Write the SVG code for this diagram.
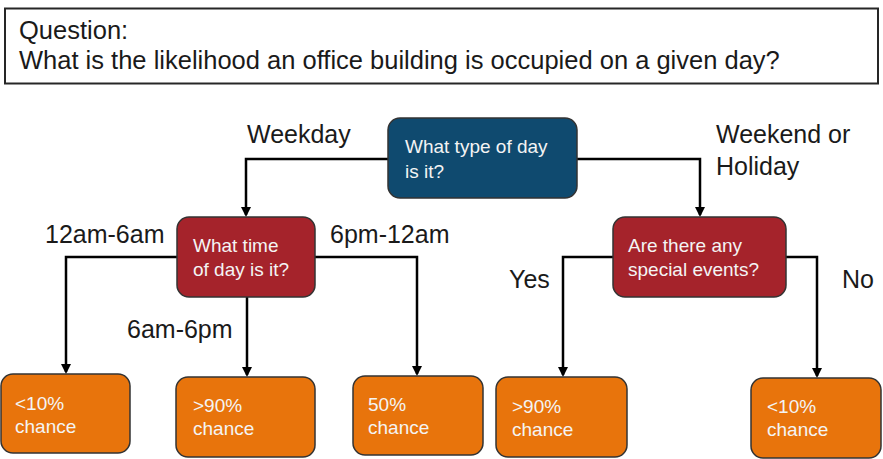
<svg xmlns="http://www.w3.org/2000/svg" width="883" height="459" viewBox="0 0 883 459">
  <style>
    .lbl { font-family: "Liberation Sans", Arial, sans-serif; font-size: 25px; fill: #1a1a1a; }
    .qtx { font-family: "Liberation Sans", Arial, sans-serif; font-size: 25.5px; fill: #1a1a1a; }
    .ntx { font-family: "Liberation Sans", Arial, sans-serif; font-size: 19px; fill: #f4f4f4; }
    .box { stroke: #333333; stroke-width: 1.5; }
    .q { fill: #0f4a6f; }
    .d { fill: #a5232b; }
    .o { fill: #e8740c; }
    .edge { fill: none; stroke: #000000; stroke-width: 2.5; }
  </style>
  <defs>
    <marker id="arrow" markerWidth="10" markerHeight="10" refX="8" refY="5" orient="auto" markerUnits="userSpaceOnUse">
      <path d="M0,0 L10,5 L0,10 Z" fill="#000000"/>
    </marker>
  </defs>
  <rect width="883" height="459" fill="#ffffff"/>

  <!-- question banner -->
  <g id="question">
    <rect x="5" y="8.5" width="873" height="75" fill="#ffffff" stroke="#262626" stroke-width="2"/>
    <text class="qtx" x="19" y="39">Question:</text>
    <text class="qtx" x="19" y="69">What is the likelihood an office building is occupied on a given day?</text>
  </g>

  <!-- connectors -->
  <g id="connectors">
    <path class="edge" d="M388,159 H246 V215" marker-end="url(#arrow)"/>
    <path class="edge" d="M577,159 H700 V215" marker-end="url(#arrow)"/>
    <path class="edge" d="M177,257 H66 V372" marker-end="url(#arrow)"/>
    <path class="edge" d="M247,297 V375" marker-end="url(#arrow)"/>
    <path class="edge" d="M315,257 H417 V374" marker-end="url(#arrow)"/>
    <path class="edge" d="M613,257 H563 V375" marker-end="url(#arrow)"/>
    <path class="edge" d="M786,257 H817 V376" marker-end="url(#arrow)"/>
    <text class="lbl" x="247" y="143">Weekday</text>
    <text class="lbl" x="716" y="143">Weekend or</text>
    <text class="lbl" x="716" y="175">Holiday</text>
    <text class="lbl" x="45" y="243">12am-6am</text>
    <text class="lbl" x="330" y="243">6pm-12am</text>
    <text class="lbl" x="127" y="338">6am-6pm</text>
    <text class="lbl" x="509" y="288">Yes</text>
    <text class="lbl" x="842" y="288">No</text>
  </g>

  <g id="day-type">
    <rect class="box q" x="388" y="118" width="189" height="80" rx="12"/>
    <text class="ntx" x="405" y="153">What type of day</text>
    <text class="ntx" x="405" y="178">is it?</text>
  </g>

  <g id="time-of-day">
    <rect class="box d" x="177" y="217" width="138" height="80" rx="12"/>
    <text class="ntx" x="193" y="252">What time</text>
    <text class="ntx" x="193" y="276">of day is it?</text>
  </g>

  <g id="special-events">
    <rect class="box d" x="613" y="217" width="173" height="80" rx="12"/>
    <text class="ntx" x="628" y="252">Are there any</text>
    <text class="ntx" x="628" y="276">special events?</text>
  </g>

  <g id="night">
    <rect class="box o" x="1" y="374" width="129" height="79" rx="12"/>
    <text class="ntx" x="15" y="410">&lt;10%</text>
    <text class="ntx" x="15" y="433">chance</text>
  </g>

  <g id="daytime">
    <rect class="box o" x="176" y="377" width="139" height="80" rx="12"/>
    <text class="ntx" x="193" y="412">&gt;90%</text>
    <text class="ntx" x="193" y="435">chance</text>
  </g>

  <g id="evening">
    <rect class="box o" x="353" y="376" width="130" height="79" rx="12"/>
    <text class="ntx" x="368" y="411">50%</text>
    <text class="ntx" x="368" y="434">chance</text>
  </g>

  <g id="events-yes">
    <rect class="box o" x="496" y="377" width="131" height="80" rx="12"/>
    <text class="ntx" x="512" y="413">&gt;90%</text>
    <text class="ntx" x="512" y="436">chance</text>
  </g>

  <g id="events-no">
    <rect class="box o" x="751" y="378" width="130" height="80" rx="12"/>
    <text class="ntx" x="767" y="413">&lt;10%</text>
    <text class="ntx" x="767" y="436">chance</text>
  </g>
</svg>
